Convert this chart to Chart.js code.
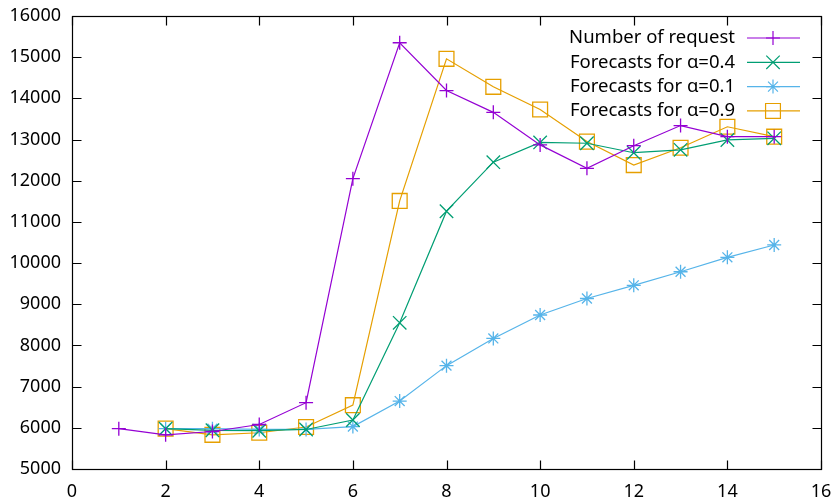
<!DOCTYPE html>
<html>
<head>
<meta charset="utf-8">
<script src="https://cdn.jsdelivr.net/npm/chart.js@4/dist/chart.umd.min.js"></script>
<style>
  html, body { margin: 0; padding: 0; background: #fff; }
  #wrap { width: 837px; height: 503px; }
</style>
</head>
<body>
<div id="wrap"><canvas id="chart" width="837" height="503"></canvas></div>
<script>
// values
const periods = [1, 2, 3, 4, 5, 6, 7, 8, 9, 10, 11, 12, 13, 14, 15];
const forecastPeriods = [2, 3, 4, 5, 6, 7, 8, 9, 10, 11, 12, 13, 14, 15];
const requests = [5980, 5830, 5910, 6080, 6610, 12050, 15350, 14190, 13660, 12870, 12300, 12850, 13340, 13070, 13070];
const alpha04 = [5980, 5940, 5930, 5960, 6190, 8550, 11260, 12450, 12930, 12910, 12680, 12750, 12990, 13030];
const alpha01 = [5980, 5980, 5960, 5960, 6030, 6650, 7510, 8170, 8740, 9140, 9460, 9790, 10140, 10440];
const alpha09 = [5980, 5830, 5880, 6020, 6550, 11510, 14960, 14280, 13730, 12950, 12380, 12800, 13310, 13070];
const xTicks = [0, 2, 4, 6, 8, 10, 12, 14, 16];
const yTicks = [5000, 6000, 7000, 8000, 9000, 10000, 11000, 12000, 13000, 14000, 15000, 16000];

const FONT = '"Noto Sans", sans-serif';

const pts = (xs, ys) => xs.map((x, i) => ({ x, y: ys[i] }));

const series = [
    { label: 'Number of request', data: pts(periods, requests), color: '#9400d3', style: 'cross', r: 7 },
    { label: 'Forecasts for ɑ=0.4', data: pts(forecastPeriods, alpha04), color: '#009e73', style: 'crossRot', r: 9.5 },
    { label: 'Forecasts for ɑ=0.1', data: pts(forecastPeriods, alpha01), color: '#56b4e9', style: 'star', r: 7 },
    { label: 'Forecasts for ɑ=0.9', data: pts(forecastPeriods, alpha09), color: '#e69f00', style: 'rect', r: 10.5 }
];

// gnuplot style frame with inward ticks on all four sides
const framePlugin = {
    id: 'frame',
    afterDatasetsDraw(chart) {
        const { ctx, chartArea: a, scales } = chart;
        const L = Math.round(a.left) + 0.5, R = Math.round(a.right) + 0.5;
        const T = Math.round(a.top) + 0.5, B = Math.round(a.bottom) + 0.5;
        ctx.save();
        ctx.strokeStyle = '#000';
        ctx.lineWidth = 1.2;
        ctx.strokeRect(L, T, R - L, B - T);
        ctx.beginPath();
        xTicks.forEach(v => {
            const px = Math.round(scales.x.getPixelForValue(v)) + 0.5;
            ctx.moveTo(px, B); ctx.lineTo(px, B - 9);
            ctx.moveTo(px, T); ctx.lineTo(px, T + 9);
        });
        yTicks.forEach(v => {
            const py = Math.round(scales.y.getPixelForValue(v)) + 0.5;
            ctx.moveTo(L, py); ctx.lineTo(L + 9, py);
            ctx.moveTo(R, py); ctx.lineTo(R - 9, py);
        });
        ctx.stroke();
        ctx.restore();
    }
};

// key inside the plot, text right-aligned with the sample on its right
const keyPlugin = {
    id: 'key',
    afterDatasetsDraw(chart) {
        const { ctx } = chart;
        ctx.save();
        ctx.font = '18.5px ' + FONT;
        ctx.textAlign = 'right';
        ctx.textBaseline = 'middle';
        chart.data.datasets.forEach((ds, i) => {
            const y = 38 + i * 24.3;
            ctx.fillStyle = '#000';
            ctx.fillText(ds.label, 735, y);
            ctx.strokeStyle = ds.borderColor;
            ctx.lineWidth = 1.2;
            ctx.beginPath();
            ctx.moveTo(747, y); ctx.lineTo(800, y);
            ctx.stroke();
            ctx.fillStyle = 'rgba(0,0,0,0)';
            Chart.helpers.drawPoint(ctx, {
                pointStyle: ds.pointStyle, rotation: 0,
                radius: ds.pointRadius, borderWidth: ds.pointBorderWidth
            }, 773, y);
        });
        ctx.restore();
    }
};

new Chart(document.getElementById('chart').getContext('2d'), {
    type: 'line',
    data: {
        datasets: series.map(s => ({
            label: s.label,
            data: s.data,
            borderColor: s.color,
            backgroundColor: 'rgba(0,0,0,0)',
            borderWidth: 1.2,
            tension: 0,
            pointStyle: s.style,
            pointRadius: s.r,
            pointHoverRadius: s.r,
            pointBorderWidth: 1.3,
            pointBorderColor: s.color,
            pointBackgroundColor: 'rgba(0,0,0,0)'
        }))
    },
    options: {
        responsive: false,
        animation: false,
        layout: { padding: { top: 16, right: 16, left: 0, bottom: 0 } },
        plugins: { legend: { display: false }, tooltip: { enabled: false } },
        scales: {
            x: {
                type: 'linear', min: 0, max: 16,
                afterBuildTicks: s => { s.ticks = xTicks.map(v => ({ value: v })); },
                afterFit: s => { s.height = 34; s.paddingLeft = 0; s.paddingRight = 0; },
                grid: { display: false, drawTicks: false },
                border: { display: false },
                ticks: { color: '#000', font: { family: FONT, size: 18 }, padding: 12, maxRotation: 0 }
            },
            y: {
                min: 5000, max: 16000,
                afterBuildTicks: s => { s.ticks = yTicks.map(v => ({ value: v })); },
                afterFit: s => { s.width = 72; s.paddingTop = 0; s.paddingBottom = 0; },
                grid: { display: false, drawTicks: false },
                border: { display: false },
                ticks: { color: '#000', font: { family: FONT, size: 18 }, padding: 11, callback: v => String(v) }
            }
        }
    },
    plugins: [framePlugin, keyPlugin]
});
</script>
</body>
</html>
